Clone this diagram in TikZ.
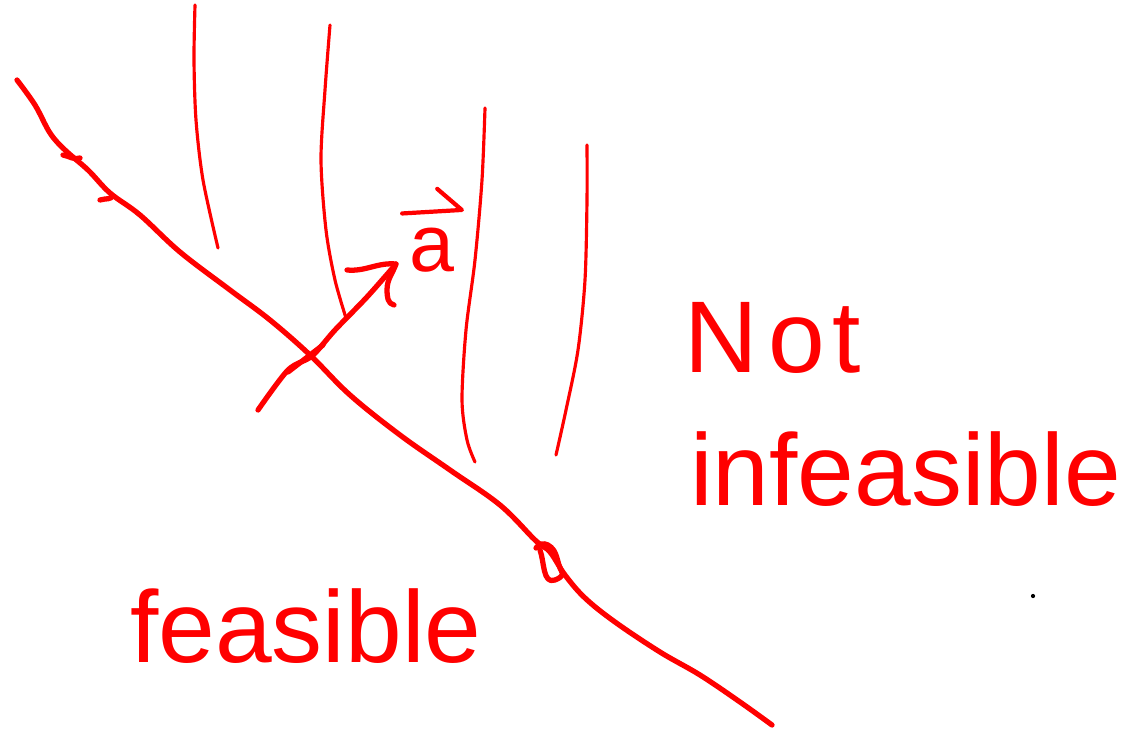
\documentclass[tikz,border=0pt]{standalone}
\usepackage{fontspec}
\setmainfont{Liberation Sans}
\usetikzlibrary{positioning}

\begin{document}
\begin{tikzpicture}[
    x=0.02cm, y=-0.02cm,
    ink/.style={draw=red, line width=3pt, line cap=round, line join=round},
    hatch/.style={draw=red, line width=1.8pt, line cap=round},
    word/.style={text=red, inner sep=0pt, font=\fontsize{58}{58}\selectfont}
  ]
    \useasboundingbox[fill=white] (0,0) rectangle (1142,734);

    % boundary line
    \draw[ink] plot[smooth, tension=0.6] coordinates {(17,80) (35,105) (50,133) (65,150) (88,170) (110,193) (140,215)
      (180,252) (230,290) (270,320) (310,355) (350,395) (400,435) (450,470) (500,505) (535,540)
      (550,552) (565,575) (585,598) (615,622) (660,652) (700,675) (740,702) (772,725)};
    \draw[ink] (63,155) to[out=-10,in=200] (80,158);
    \draw[ink] (100,200) to[out=20,in=-70] (112,195);
    \draw[ink] (536,548) to[out=60,in=150] (548,545) to[out=-30,in=120] (562,572);
    \draw[ink] (540,550) to[out=-70,in=200] (555,580) to[out=20,in=-60] (562,572);

    % hatching
    \draw[hatch] plot[smooth] coordinates {(195,5) (194,60) (196,120) (203,180) (218,248)};
    \draw[hatch] plot[smooth] coordinates {(330,25) (325,90) (321,160) (326,230) (335,280) (346,318)};
    \draw[hatch] plot[smooth] coordinates {(485,108) (482,180) (475,260) (466,330) (462,400) (467,440) (475,462)};
    \draw[hatch] plot[smooth] coordinates {(587,145) (587,200) (585,280) (578,350) (566,410) (556,455)};

    % normal vector
    \coordinate (tail) at (258,410);
    \coordinate (tip) at (396,264);
    \draw[ink] plot[smooth] coordinates {(tail) (288,370) (312,356) (335,330) (367,297) (tip)};
    \draw[ink] (288,372) -- (323,345);
    \draw[ink] (347,270) to[out=-5,in=175] (tip) to[out=-110,in=90] (387,290) to[out=-90,in=170] (394,305);

    \node[word, font=\fontsize{46}{46}\selectfont] (avec) at (432,250) {a};
    \draw[ink, line width=2.4pt] ([xshift=-4pt,yshift=8pt]avec.north west) -- ([xshift=4pt,yshift=10pt]avec.north east)
      -- ([xshift=-10pt,yshift=22pt]avec.north east);

    % labels
    \node[word, anchor=base west] (nott) at (684,372) {N\hspace{6pt}o\hspace{4pt}t};
    \node[word, anchor=base west] (infeas) at (690,505) {infeasible};
    \node[word, anchor=base west] (feas) at (130,662) {feasible};

    \fill[black] (1033,596) circle (1.2pt);
  \end{tikzpicture}
\end{document}
